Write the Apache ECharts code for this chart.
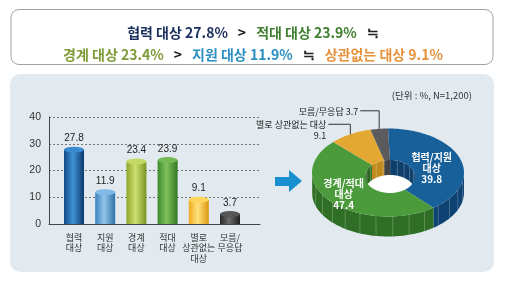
<!DOCTYPE html>
<html>
<head>
<meta charset="utf-8">
<script src="https://cdn.jsdelivr.net/npm/echarts@6/dist/echarts.min.js"></script>
<style>
  html, body { margin: 0; padding: 0; background: #fff; }
  #chart { width: 506px; height: 292px; }
</style>
</head>
<body>
<div id="chart"></div>
<script>
// 막대 그래프
var barCategories = ["협력\n대상", "지원\n대상", "경계\n대상", "적대\n대상", "별로\n상관없는\n대상", "모름/\n무응답"];
var barValues = [27.8, 11.9, 23.4, 23.9, 9.1, 3.7];
var yMin = 0, yMax = 40, yStep = 10;

// 도넛 그래프 (통합 분류)
var pieNames = ["협력/지원\n대상", "경계/적대\n대상", "별로 상관없는 대상", "모름/무응답"];
var pieValues = [39.8, 47.4, 9.1, 3.7];

// 스타일
var KR = "'Noto Sans CJK KR', 'Noto Sans', sans-serif";
var NUM = "'Liberation Sans', Arial, 'Noto Sans CJK KR', sans-serif";
var barGrad = [
  ["#0f4a86", "#3f93d4", "#0b3a6c"],
  ["#3a82bd", "#93c6ea", "#2f70a8"],
  ["#8ca62a", "#cfe070", "#7a9420"],
  ["#3c8a2c", "#80c25c", "#317624"],
  ["#eeaa1c", "#ffe27e", "#dd9610"],
  ["#262626", "#6c6c6c", "#1e1e1e"]
];
var barCap = ["#3a8ad0", "#80b9e6", "#c3d865", "#73b852", "#ffd65a", "#565656"];
var pieTop = ["#17609a", "#4b9b3c", "#e2a832", "#5b5b5e"];
var pieSide = ["#0e4272", "#2f6f25", "#b07c1c", "#3a3a3c"];
var pieInner = ["#0e3f6c", "#2d6a23", "#c08a1e", "#444446"];

// 도넛 배치
var cx = 388, cy = 172.5, rx = 76, ry = 44, depth = 20;
var icx = 390, icy = 176.5, irx = 25, iry = 16.5, innerDepth = 15;
var leaderUp = [0, 0, 10, 18], leaderLeft = [0, 0, 22, 19];
var labelNudge = [[-1, 1], [-9, 1], [0, 0], [0, 0]];

var pieTotal = 0, pieStart = [];
pieValues.forEach(function (v) { pieStart.push(pieTotal); pieTotal += v; });
function ang(i) {
  var a0 = pieStart[i] / pieTotal * Math.PI * 2;
  return [a0, a0 + pieValues[i] / pieTotal * Math.PI * 2];
}
function pt(a, r1, r2, dy, ox, oy) {
  return [(ox || cx) + r1 * Math.sin(a), (oy || cy) - r2 * Math.cos(a) + (dy || 0)];
}
function arc(a0, a1, r1, r2, dy, ox, oy) {
  var n = Math.max(2, Math.ceil((a1 - a0) / 0.03)), out = [];
  for (var k = 0; k <= n; k++) out.push(pt(a0 + (a1 - a0) * k / n, r1, r2, dy, ox, oy));
  return out;
}
function clip(a0, a1, b0, b1) {
  var s = Math.max(a0, b0), e = Math.min(a1, b1);
  return e > s ? [s, e] : null;
}

function renderWalls(params, api) {
  var i = params.dataIndex, a = ang(i), kids = [];
  if (i === 0) {
    kids.push({ type: "ellipse", shape: { cx: icx, cy: icy, rx: irx, ry: iry }, style: { fill: "#ffffff" } });
  }
  // 안쪽 벽 (뒤쪽 절반)
  [[0, Math.PI / 2], [Math.PI * 1.5, Math.PI * 2]].forEach(function (r) {
    var c = clip(a[0], a[1], r[0], r[1]);
    if (c) {
      var pts = arc(c[0], c[1], irx, iry, 0, icx, icy).concat(arc(c[0], c[1], irx, iry, innerDepth, icx, icy).reverse());
      kids.push({ type: "polygon", shape: { points: pts }, style: { fill: pieInner[i] } });
      for (var t = Math.ceil(c[0] / 0.3) * 0.3; t < c[1]; t += 0.3) {
        var q = pt(t, irx, iry, 0, icx, icy);
        kids.push({ type: "line", shape: { x1: q[0], y1: q[1], x2: q[0], y2: q[1] + innerDepth }, style: { stroke: "rgba(255,255,255,0.25)", lineWidth: 1 } });
      }
    }
  });
  // 바깥 벽 (앞쪽 절반)
  var c = clip(a[0], a[1], Math.PI / 2, Math.PI * 1.5);
  if (c) {
    var pts = arc(c[0], c[1], rx, ry, 0).concat(arc(c[0], c[1], rx, ry, depth).reverse());
    kids.push({ type: "polygon", shape: { points: pts }, style: { fill: pieSide[i] } });
    for (var t = Math.ceil(c[0] / 0.22) * 0.22; t < c[1]; t += 0.22) {
      var p = pt(t, rx, ry, 0);
      kids.push({ type: "line", shape: { x1: p[0], y1: p[1], x2: p[0], y2: p[1] + depth }, style: { stroke: "rgba(255,255,255,0.22)", lineWidth: 1 } });
    }
  }
  return { type: "group", children: kids };
}

function renderTops(params, api) {
  var i = params.dataIndex, a = ang(i), kids = [];
  var pts = arc(a[0], a[1], rx, ry, 0).concat(arc(a[0], a[1], irx, iry, 0, icx, icy).reverse());
  kids.push({ type: "polygon", shape: { points: pts }, style: { fill: pieTop[i] } });
  var mid = (a[0] + a[1]) / 2, v = api.value(0);
  if (v >= 20) {
    var lp = pt(mid, rx * 0.62, ry * 0.62, 3);
    kids.push({
      type: "text",
      style: { text: pieNames[i] + "\n" + v.toFixed(1), x: lp[0] + labelNudge[i][0], y: lp[1] + labelNudge[i][1],
        fill: "#fff", fontSize: 10, fontFamily: KR, fontWeight: "bold", align: "center", verticalAlign: "middle", lineHeight: 11 }
    });
  } else {
    var s = pt(mid, rx, ry, 0), ey = s[1] - leaderUp[i], ex = s[0] - leaderLeft[i];
    kids.push({ type: "polyline", shape: { points: [[s[0], s[1]], [s[0], ey], [ex, ey]] }, style: { stroke: "#333", lineWidth: 1, fill: null } });
    var txt = i === 2 ? pieNames[i] + "\n" + v.toFixed(1) : pieNames[i] + " " + v.toFixed(1);
    kids.push({
      type: "text",
      style: { text: txt, x: ex - 2, y: ey - 5, fill: "#222", fontSize: 9, fontFamily: KR,
        align: "right", verticalAlign: "top", lineHeight: 11 }
    });
  }
  return { type: "group", children: kids };
}

var chart = echarts.init(document.getElementById("chart"));
var option = {
  animation: false,
  title: {
    left: "center",
    top: 17,
    text: "{n|협력 대상 27.8%}  {k|>}  {g|적대 대상 23.9%}  {k|≒}\n{o|경계 대상 23.4%}  {k|>}  {b|지원 대상 11.9%}  {k|≒}  {y|상관없는 대상 9.1%}",
    textStyle: {
      rich: {
        n: { color: "#1b2f5e", fontSize: 14, fontWeight: "bold", fontFamily: KR, lineHeight: 22 },
        k: { color: "#222", fontSize: 14, fontWeight: "bold", fontFamily: KR, lineHeight: 22 },
        g: { color: "#3f7f2f", fontSize: 14, fontWeight: "bold", fontFamily: KR, lineHeight: 22 },
        o: { color: "#7e9a36", fontSize: 14, fontWeight: "bold", fontFamily: KR, lineHeight: 22 },
        b: { color: "#2b8fc2", fontSize: 14, fontWeight: "bold", fontFamily: KR, lineHeight: 22 },
        y: { color: "#e5923a", fontSize: 14, fontWeight: "bold", fontFamily: KR, lineHeight: 22 }
      }
    }
  },
  graphic: [
    { type: "rect", z: -10, shape: { x: 11, y: 9.5, width: 482, height: 55, r: 8 }, style: { fill: "#fff", stroke: "#9aa3a8", lineWidth: 1 } },
    { type: "rect", z: -10, shape: { x: 10, y: 74, width: 484, height: 198, r: 10 }, style: { fill: "#e2eaef" } },
    { type: "polygon", shape: { points: [[275, 177], [289, 177], [289, 170], [302, 181], [289, 192], [289, 186], [275, 186]] }, style: { fill: "#1a8fcf" } },
    { type: "text", style: { text: "(단위 : %, N=1,200)", x: 472, y: 95, fill: "#333", fontSize: 9.5, fontFamily: KR, align: "right", verticalAlign: "middle" } }
  ],
  grid: [
    { left: 49, right: 246, top: 117, bottom: 68 },
    { left: 74, right: 276, top: 117, bottom: 68 }
  ],
  xAxis: [
    { gridIndex: 0, type: "value", min: 0, max: 1, axisLine: { show: true, lineStyle: { color: "#444" } },
      axisTick: { show: false }, axisLabel: { show: false }, splitLine: { show: false } },
    { gridIndex: 1, type: "category", data: barCategories, boundaryGap: false,
      axisLine: { show: false }, axisTick: { show: false },
      axisLabel: { interval: 0, margin: 8, color: "#333", fontSize: 9, lineHeight: 10.5, fontFamily: KR } }
  ],
  yAxis: [
    { gridIndex: 0, type: "value", min: yMin, max: yMax, interval: yStep,
      axisLine: { show: true, lineStyle: { color: "#444" } }, axisTick: { show: false },
      axisLabel: { margin: 8, color: "#333", fontSize: 10.5, fontFamily: NUM },
      splitLine: { lineStyle: { color: "#777", type: [2, 2] } } },
    { gridIndex: 1, type: "value", min: yMin, max: yMax, show: false }
  ],
  series: [
    {
      type: "bar", xAxisIndex: 1, yAxisIndex: 1, barWidth: 20,
      data: barValues.map(function (v, i) {
        return { value: v, itemStyle: { color: new echarts.graphic.LinearGradient(0, 0, 1, 0, [
          { offset: 0, color: barGrad[i][0] }, { offset: 0.45, color: barGrad[i][1] }, { offset: 1, color: barGrad[i][2] }]) } };
      }),
      label: { show: true, position: "top", distance: 6, color: "#222", fontSize: 10, fontFamily: NUM,
        formatter: function (p) { return p.value.toFixed(1); } }
    },
    {
      type: "pictorialBar", xAxisIndex: 1, yAxisIndex: 1, symbol: "circle", symbolSize: [20, 6],
      symbolPosition: "end", symbolOffset: [0, "-50%"], z: 3,
      data: barValues.map(function (v, i) { return { value: v, itemStyle: { color: barCap[i] } }; })
    },
    { type: "custom", coordinateSystem: "none", renderItem: renderWalls, data: pieValues, z: 2 },
    { type: "custom", coordinateSystem: "none", renderItem: renderTops, data: pieValues, z: 3 }
  ]
};
chart.setOption(option);
</script>
</body>
</html>
